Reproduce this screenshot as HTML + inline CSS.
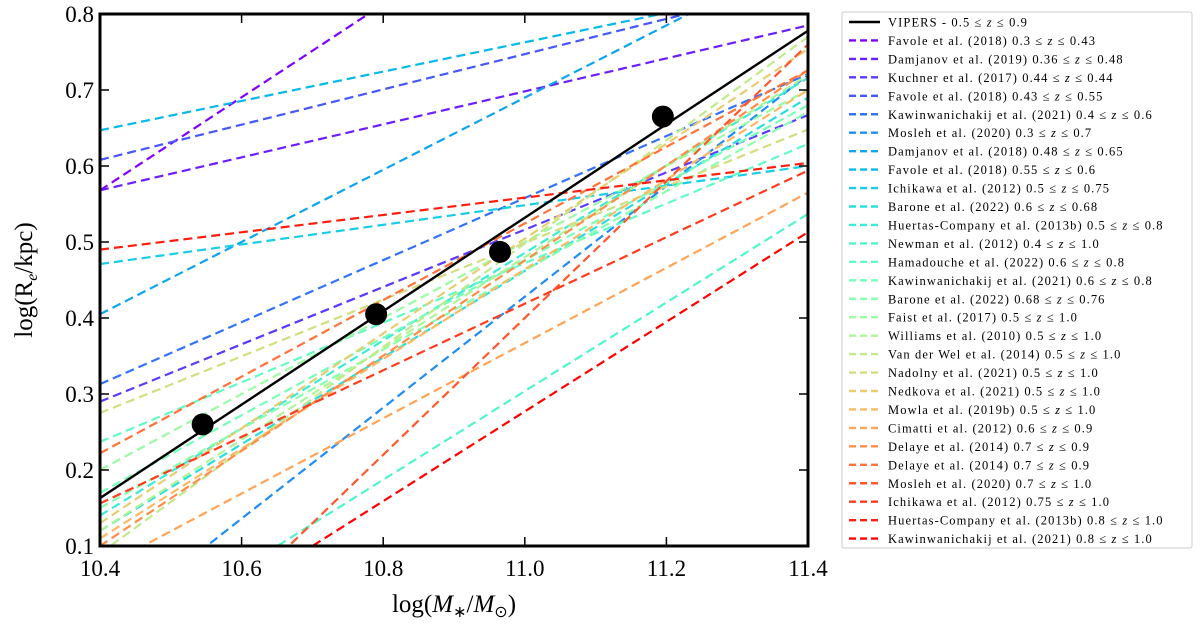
<!DOCTYPE html>
<html><head><meta charset="utf-8"><style>
body{margin:0;background:#fff;overflow:hidden;}
svg{display:block;font-family:"Liberation Serif",serif;}
</style></head><body>
<svg id="chart" width="1200" height="628"></svg>
<script>
const labels=["Favole et al. (2018) 0.3 ≤ z ≤ 0.43","Damjanov et al. (2019) 0.36 ≤ z ≤ 0.48","Kuchner et al. (2017) 0.44 ≤ z ≤ 0.44","Favole et al. (2018) 0.43 ≤ z ≤ 0.55","Kawinwanichakij et al. (2021) 0.4 ≤ z ≤ 0.6","Mosleh et al. (2020) 0.3 ≤ z ≤ 0.7","Damjanov et al. (2018) 0.48 ≤ z ≤ 0.65","Favole et al. (2018) 0.55 ≤ z ≤ 0.6","Ichikawa et al. (2012) 0.5 ≤ z ≤ 0.75","Barone et al. (2022) 0.6 ≤ z ≤ 0.68","Huertas-Company et al. (2013b) 0.5 ≤ z ≤ 0.8","Newman et al. (2012) 0.4 ≤ z ≤ 1.0","Hamadouche et al. (2022) 0.6 ≤ z ≤ 0.8","Kawinwanichakij et al. (2021) 0.6 ≤ z ≤ 0.8","Barone et al. (2022) 0.68 ≤ z ≤ 0.76","Faist et al. (2017) 0.5 ≤ z ≤ 1.0","Williams et al. (2010) 0.5 ≤ z ≤ 1.0","Van der Wel et al. (2014) 0.5 ≤ z ≤ 1.0","Nadolny et al. (2021) 0.5 ≤ z ≤ 1.0","Nedkova et al. (2021) 0.5 ≤ z ≤ 1.0","Mowla et al. (2019b) 0.5 ≤ z ≤ 1.0","Cimatti et al. (2012) 0.6 ≤ z ≤ 0.9","Delaye et al. (2014) 0.7 ≤ z ≤ 0.9","Delaye et al. (2014) 0.7 ≤ z ≤ 0.9","Mosleh et al. (2020) 0.7 ≤ z ≤ 1.0","Ichikawa et al. (2012) 0.75 ≤ z ≤ 1.0","Huertas-Company et al. (2013b) 0.8 ≤ z ≤ 1.0","Kawinwanichakij et al. (2021) 0.8 ≤ z ≤ 1.0"];
const yAtLeft=[0.568,0.568,0.29,0.608,0.313,-0.01,0.405,0.647,0.471,0.12,0.14,-0.046,0.237,0.17,0.15,0.2,0.12,0.09,0.275,0.13,0.11,0.07,0.10,0.222,-0.14,0.156,0.49,-0.077];
const yAtRight=[1.18,0.785,0.667,0.84,0.721,0.72,0.88,0.84,0.60,0.69,0.716,0.537,0.629,0.68,0.671,0.70,0.72,0.77,0.648,0.754,0.70,0.565,0.726,0.726,0.76,0.594,0.604,0.513];
const vipersX=[10.545,10.79,10.965,11.195];
const vipersY=[0.26,0.405,0.487,0.665];
const vipersFit=[0.163,0.778];
const xTicks=[10.4,10.6,10.8,11.0,11.2,11.4];
const yTicks=[0.1,0.2,0.3,0.4,0.5,0.6,0.7,0.8];

const L=100,R=808,T=14,B=546;
const sx=v=>L+(v-10.4)/1.0*(R-L);
const sy=v=>B-(v-0.1)/0.7*(B-T);
const NS="http://www.w3.org/2000/svg";
const svg=document.getElementById('chart');
function mk(t,a,p){const e=document.createElementNS(NS,t);for(const k in a)e.setAttribute(k,a[k]);(p||svg).appendChild(e);return e;}
function rb(x){const r=Math.min(1,Math.abs(2*x-0.5)),g=Math.sin(Math.PI*x),b=Math.cos(Math.PI*x/2);return `rgb(${Math.round(r*255)},${Math.round(g*255)},${Math.round(b*255)})`;}
mk('defs',{}).innerHTML=`<clipPath id="clip"><rect x="${L}" y="${T}" width="${R-L}" height="${B-T}"/></clipPath>`;
const g=mk('g',{'clip-path':'url(#clip)'});


labels.forEach((lab,i)=>{
  const c=rb(i/(labels.length-1));
  const ln=mk('line',{x1:sx(10.4),y1:sy(yAtLeft[i]),x2:sx(11.4),y2:sy(yAtRight[i]),stroke:c,'stroke-width':2.2,'stroke-dasharray':'9,5'},g);
  
  
});
const fit=mk('line',{x1:sx(10.4),y1:sy(vipersFit[0]),x2:sx(11.4),y2:sy(vipersFit[1]),stroke:'#000','stroke-width':2.4},g);


vipersX.forEach((x,i)=>{
  const p=mk('circle',{cx:sx(x),cy:sy(vipersY[i]),r:11,fill:'#000'},g);
  
  
});
const frame=mk('rect',{x:L,y:T,width:R-L,height:B-T,fill:'none',stroke:'#000','stroke-width':3});


xTicks.forEach(v=>{
  mk('line',{x1:sx(v),y1:B,x2:sx(v),y2:B-9,stroke:'#000','stroke-width':1.5});
  mk('line',{x1:sx(v),y1:T,x2:sx(v),y2:T+9,stroke:'#000','stroke-width':1.5});
  const t=mk('text',{x:sx(v),y:576,'text-anchor':'middle','font-size':23});
  t.textContent=v.toFixed(1);
  
  
});
yTicks.forEach(v=>{
  mk('line',{x1:L,y1:sy(v),x2:L+9,y2:sy(v),stroke:'#000','stroke-width':1.5});
  mk('line',{x1:R,y1:sy(v),x2:R-9,y2:sy(v),stroke:'#000','stroke-width':1.5});
  const t=mk('text',{x:L-6,y:sy(v)+8,'text-anchor':'end','font-size':23});
  t.textContent=v.toFixed(1);
  
  
});
const xt=mk('text',{x:(L+R)/2,y:612,'text-anchor':'middle','font-size':25});
xt.innerHTML='log(<tspan font-style="italic">M</tspan><tspan font-size="16" dy="5">∗</tspan><tspan dy="-5">/</tspan><tspan font-style="italic">M</tspan><tspan font-size="16" dy="5">⊙</tspan><tspan dy="-5">)</tspan>';


const yt=mk('text',{x:0,y:0,'text-anchor':'middle','font-size':25,transform:`translate(32,${(T+B)/2}) rotate(-90)`});
yt.innerHTML='log(R<tspan font-size="16" dy="5" font-style="italic">e</tspan><tspan dy="-5">/kpc)</tspan>';


// legend
const lg=mk('g',{});


mk('rect',{x:842,y:12,width:350,height:536,fill:'#fff',stroke:'#ccc','stroke-width':1,rx:2},lg);
const all=[{t:'VIPERS - 0.5 ≤ z ≤ 0.9',c:'#000',d:null}].concat(labels.map((t,i)=>({t,c:rb(i/(labels.length-1)),d:'7,4'})));
all.forEach((e,i)=>{
  const y=22+i*18.45;
  const it=mk('g',{},lg);
  
  
  const a={x1:849,y1:y,x2:880,y2:y,stroke:e.c,'stroke-width':2.4};
  if(e.d)a['stroke-dasharray']=e.d;
  mk('line',a,it);
  const t=mk('text',{x:888,y:y+4.5,'font-size':12.5,'letter-spacing':1.1},it);
  t.innerHTML=e.t.replace(/ z /g,' <tspan font-style="italic">z</tspan> ');
});
</script>
</body></html>
